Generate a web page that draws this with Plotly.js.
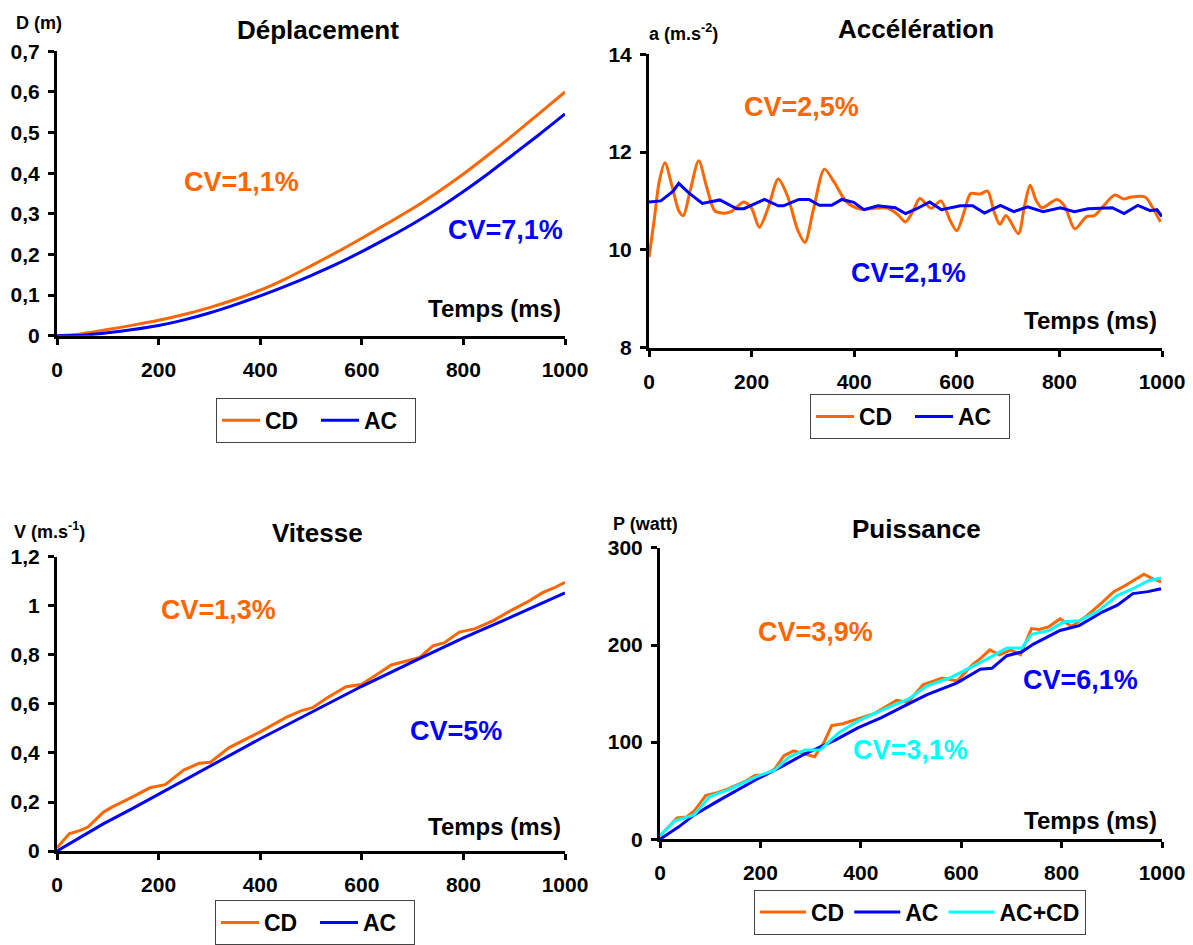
<!DOCTYPE html>
<html>
<head>
<meta charset="utf-8">
<script src="https://cdn.plot.ly/plotly-3.0.1.min.js"></script>
<style>html,body{margin:0;padding:0;background:#fff;}#chart{width:1193px;height:945px;}</style>
</head>
<body>
<div id="chart"></div>
<script>
// ---------- DATA ----------
var seriesNames = ["CD", "AC", "AC+CD"];
var xTicks = [0, 200, 400, 600, 800, 1000];

// Déplacement (m)
var tDep = [0, 50, 100, 150, 200, 250, 300, 350, 400, 450, 500, 550, 600, 650, 700, 750, 800, 850, 900, 950, 1000];
var depCD = [0, 0.005, 0.015, 0.026, 0.038, 0.052, 0.069, 0.089, 0.112, 0.14, 0.172, 0.205, 0.24, 0.276, 0.313, 0.354, 0.398, 0.446, 0.496, 0.548, 0.6];
var depAC = [0, 0.001, 0.007, 0.015, 0.025, 0.039, 0.056, 0.076, 0.098, 0.122, 0.148, 0.176, 0.207, 0.24, 0.275, 0.313, 0.355, 0.4, 0.448, 0.496, 0.546];

// Accélération (m.s-2)
var tAccCD = [0, 10, 20, 31, 45, 58, 67, 80, 97, 112, 128, 145, 160, 185, 200, 215, 232, 252, 270, 290, 304, 320, 342, 360, 386, 413, 440, 466, 485, 500, 515, 528, 550, 569, 587, 600, 615, 627, 645, 660, 672, 684, 696, 720, 732, 743, 755, 766, 795, 810, 830, 853, 868, 886, 908, 925, 940, 967, 983, 997];
var accCD = [9.85, 10.6, 11.4, 11.78, 11.3, 10.8, 10.7, 11.2, 11.82, 11.3, 10.8, 10.75, 10.78, 10.98, 10.85, 10.46, 10.85, 11.45, 11.1, 10.4, 10.15, 10.8, 11.65, 11.4, 10.97, 10.83, 10.85, 10.85, 10.72, 10.57, 10.8, 11.05, 10.85, 11.0, 10.6, 10.39, 10.8, 11.15, 11.14, 11.2, 10.8, 10.52, 10.7, 10.33, 10.9, 11.32, 11.0, 10.86, 11.03, 10.9, 10.43, 10.68, 10.7, 10.9, 11.12, 11.04, 11.08, 11.08, 10.84, 10.57];
var tAccAC = [0, 23, 47, 58, 77, 104, 138, 171, 185, 225, 252, 262, 292, 312, 332, 356, 376, 399, 419, 446, 480, 500, 520, 547, 570, 607, 631, 654, 685, 711, 738, 768, 802, 829, 856, 903, 926, 953, 977, 990, 1000];
var accAC = [10.98, 11.0, 11.2, 11.36, 11.17, 10.95, 11.02, 10.84, 10.84, 11.03, 10.9, 10.9, 11.03, 11.03, 10.91, 10.91, 11.03, 10.97, 10.82, 10.9, 10.86, 10.74, 10.83, 10.98, 10.82, 10.9, 10.9, 10.75, 10.91, 10.78, 10.88, 10.78, 10.86, 10.78, 10.84, 10.86, 10.74, 10.91, 10.8, 10.82, 10.68];

// Vitesse (m.s-1)
var tVitCD = [0, 24, 46, 61, 91, 109, 146, 183, 213, 250, 280, 302, 339, 369, 399, 451, 480, 503, 532, 569, 599, 629, 658, 688, 714, 740, 762, 792, 822, 859, 896, 926, 955, 978, 1000];
var vitCD = [0.013, 0.07, 0.084, 0.098, 0.158, 0.18, 0.218, 0.258, 0.271, 0.331, 0.358, 0.362, 0.422, 0.452, 0.485, 0.545, 0.572, 0.585, 0.625, 0.67, 0.679, 0.719, 0.759, 0.775, 0.79, 0.837, 0.849, 0.893, 0.906, 0.94, 0.984, 1.016, 1.053, 1.073, 1.096];
var tVitAC = [0, 25, 50, 91, 150, 200, 250, 300, 400, 500, 600, 700, 800, 900, 1000];
var vitAC = [0, 0.03, 0.06, 0.111, 0.175, 0.231, 0.288, 0.345, 0.458, 0.565, 0.672, 0.772, 0.869, 0.96, 1.053];

// Puissance (watt)
var tPuiCD = [0, 15, 34, 53, 68, 91, 114, 137, 167, 190, 209, 228, 247, 266, 289, 308, 327, 342, 364, 395, 425, 448, 471, 494, 524, 562, 592, 623, 638, 657, 676, 699, 718, 740, 756, 775, 797, 820, 850, 881, 904, 926, 964, 979, 998];
var puiCD = [3.4, 12, 22, 23, 29, 45, 48, 52, 59, 66, 66, 72, 86, 91, 88, 85, 100, 117, 119, 124, 129, 136, 143, 141, 159, 166, 163, 180, 186, 195, 190, 195, 190, 217, 216, 219, 227, 219, 230, 244, 255, 261, 273, 269, 265];
var tPuiAC = [0, 38, 68, 114, 197, 243, 289, 349, 395, 440, 486, 532, 592, 638, 661, 691, 721, 744, 797, 835, 881, 911, 942, 972, 998];
var puiAC = [0, 13, 25, 39, 63, 75, 88, 102, 115, 125, 137, 149, 161, 175, 176, 189, 193, 201, 215, 220, 234, 241, 253, 255, 258];
var tPuiACCD = [0, 30, 68, 99, 137, 190, 228, 258, 289, 319, 357, 395, 456, 494, 532, 577, 615, 653, 691, 721, 740, 775, 805, 835, 873, 911, 942, 972, 998];
var puiACCD = [4, 19, 25, 44, 51, 64, 71, 85, 92, 92, 110, 122, 136, 144, 158, 166, 176, 186, 197, 197, 211, 215, 224, 225, 235, 251, 258, 266, 269];

// ---------- STYLE ----------
var ORANGE = "#FF6600", BLUE = "#0000FF", CYAN = "#00FFFF";
var W = 1193, H = 945;
function px(x) { return x / W; }
function py(y) { return 1 - y / H; }
var FONT = "Liberation Sans, Arial, sans-serif";

function line(x, y, name, color, xa, ya, leg, shape) {
  return { x: x, y: y, name: name, type: "scatter", mode: "lines",
    line: { color: color, width: 3, shape: shape || "linear", smoothing: 0.8 },
    xaxis: xa, yaxis: ya, legend: leg, hoverinfo: "skip" };
}

var traces = [
  line(tDep, depCD, seriesNames[0], ORANGE, "x", "y", "legend", "spline"),
  line(tDep, depAC, seriesNames[1], BLUE, "x", "y", "legend", "spline"),
  line(tAccCD, accCD, seriesNames[0], ORANGE, "x2", "y2", "legend2", "spline"),
  line(tAccAC, accAC, seriesNames[1], BLUE, "x2", "y2", "legend2"),
  line(tVitCD, vitCD, seriesNames[0], ORANGE, "x3", "y3", "legend3"),
  line(tVitAC, vitAC, seriesNames[1], BLUE, "x3", "y3", "legend3"),
  line(tPuiCD, puiCD, seriesNames[0], ORANGE, "x4", "y4", "legend4"),
  line(tPuiAC, puiAC, seriesNames[1], BLUE, "x4", "y4", "legend4"),
  line(tPuiACCD, puiACCD, seriesNames[2], CYAN, "x4", "y4", "legend4")
];

function xax(d0, d1, anchor) {
  return { domain: [px(d0), px(d1)], anchor: anchor, range: [0, 1000], tickvals: xTicks,
    showline: true, linecolor: "#000", linewidth: 3, ticks: "outside", ticklen: 6, tickwidth: 3,
    tickcolor: "#000", showgrid: false, zeroline: false, fixedrange: true,
    tickfont: { family: FONT, size: 21, color: "#000", weight: "bold" }, ticklabelstandoff: 7 };
}
function yax(top, bottom, anchor, range, dtick) {
  return { domain: [py(bottom), py(top)], anchor: anchor, range: range, dtick: dtick, tick0: range[0],
    showline: true, linecolor: "#000", linewidth: 3, ticks: "outside", ticklen: 6, tickwidth: 3,
    tickcolor: "#000", showgrid: false, zeroline: false, fixedrange: true,
    tickfont: { family: FONT, size: 21, color: "#000", weight: "bold" }, ticklabelstandoff: 4 };
}
function leg(cx, top, ew, iw) {
  var o = { x: px(cx), xanchor: "center", y: py(top), yanchor: "top", orientation: "h",
    bgcolor: "#fff", bordercolor: "#444", borderwidth: 1,
    font: { family: FONT, size: 23, color: "#000", weight: "bold" }, itemwidth: iw || 38 };
  if (ew) { o.entrywidth = ew; o.entrywidthmode = "pixels"; }
  return o;
}
function ann(text, cx, cy, size, color, anchor) {
  return { text: text, xref: "paper", yref: "paper", x: px(cx), y: py(cy),
    xanchor: anchor || "center", yanchor: "middle", showarrow: false,
    font: { family: FONT, size: size, color: color, weight: "bold" } };
}

var layout = {
  width: W, height: H, margin: { l: 0, r: 0, t: 0, b: 0 },
  paper_bgcolor: "#fff", plot_bgcolor: "rgba(0,0,0,0)",
  separators: ", ",
  font: { family: FONT, color: "#000", weight: "bold" },
  xaxis: xax(57, 565, "y"), yaxis: yax(52, 340, "x", [0, 0.7], 0.1),
  xaxis2: xax(649, 1162, "y2"), yaxis2: yax(55, 352, "x2", [8, 14], 2),
  xaxis3: xax(57, 565, "y3"), yaxis3: yax(564, 862, "x3", [0, 1.2], 0.2),
  xaxis4: xax(660, 1162, "y4"), yaxis4: yax(555, 850, "x4", [0, 300], 100),
  legend: leg(316, 403, 46), legend2: leg(910, 399, 46), legend3: leg(315, 912, 46), legend4: leg(920, 901, 0, 46),
  annotations: [
    ann("Déplacement", 318, 30, 26, "#000"),
    ann("Accélération", 916, 29, 26, "#000"),
    ann("Vitesse", 317, 540, 26, "#000"),
    ann("Puissance", 916, 536, 26, "#000"),
    ann("D (m)", 14, 23, 18, "#000", "left"),
    ann("a (m.s<sup>-2</sup>)", 647, 33, 18, "#000", "left"),
    ann("V (m.s<sup>-1</sup>)", 12, 537, 18, "#000", "left"),
    ann("P (watt)", 611, 531, 18, "#000", "left"),
    ann("Temps (ms)", 563, 312, 24, "#000", "right"),
    ann("Temps (ms)", 1159, 325, 24, "#000", "right"),
    ann("Temps (ms)", 563, 837, 24, "#000", "right"),
    ann("Temps (ms)", 1159, 831, 24, "#000", "right"),
    ann("CV=1,1%", 241, 184, 27, ORANGE),
    ann("CV=7,1%", 505, 233, 27, BLUE),
    ann("CV=2,5%", 801, 108, 27, ORANGE),
    ann("CV=2,1%", 908, 277, 27, BLUE),
    ann("CV=1,3%", 218, 618, 27, ORANGE),
    ann("CV=5%", 456, 740, 27, BLUE),
    ann("CV=3,9%", 815, 640, 27, ORANGE),
    ann("CV=6,1%", 1080, 689, 27, BLUE),
    ann("CV=3,1%", 910, 760, 27, CYAN)
  ]
};

Plotly.newPlot("chart", traces, layout, { staticPlot: true, displayModeBar: false });
</script>
</body>
</html>
